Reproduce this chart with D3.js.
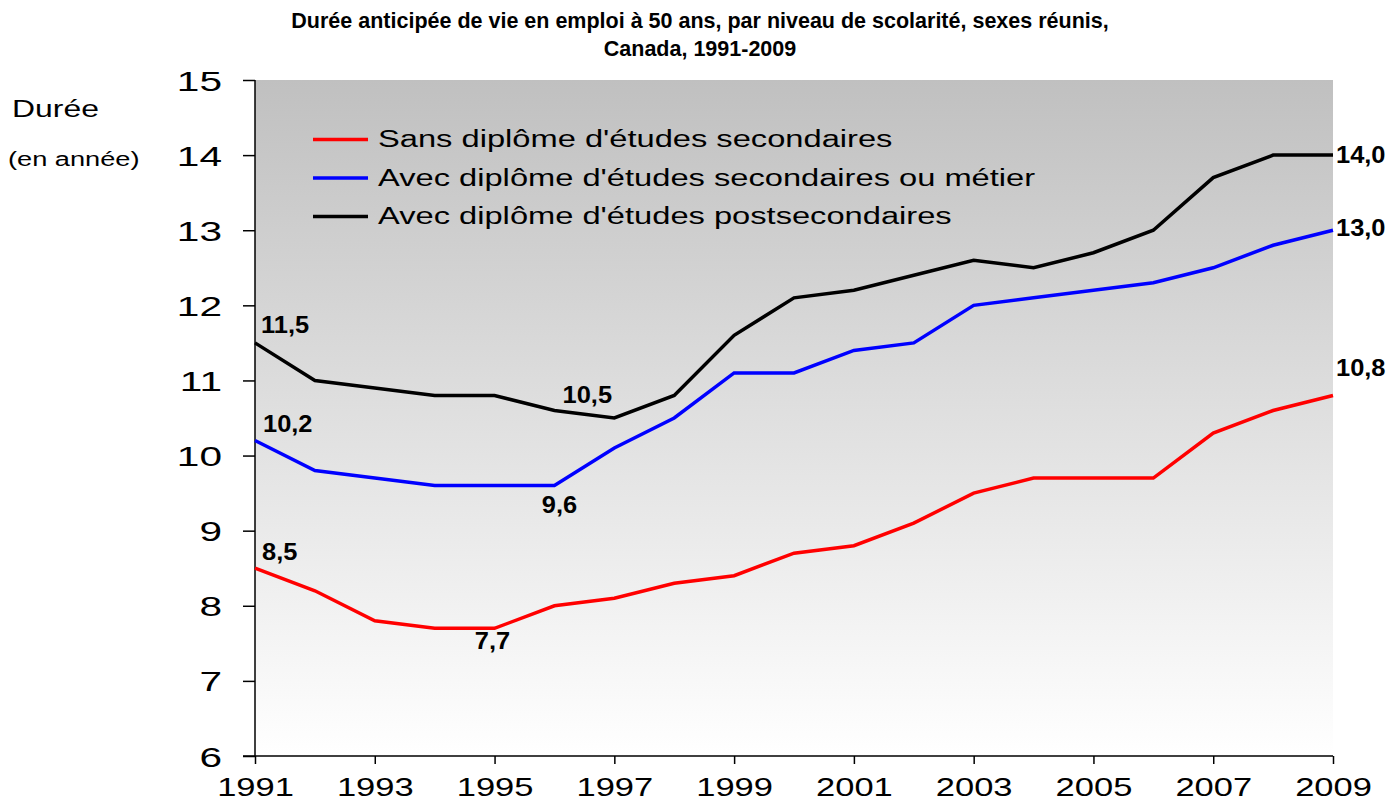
<!DOCTYPE html>
<html><head><meta charset="utf-8">
<script src="https://cdn.jsdelivr.net/npm/d3@7"></script>
<style>body{margin:0;background:#fff}svg{display:block;font-family:"Liberation Sans",Arial,sans-serif}</style>
</head><body>
<svg id="c" width="1388" height="802"></svg>
<script>
const years = d3.range(1991, 2010);
const tickYears = [1991,1993,1995,1997,1999,2001,2003,2005,2007,2009];
const yTicks = [6,7,8,9,10,11,12,13,14,15];
const seriesNames = ["Sans diplôme d'études secondaires","Avec diplôme d'études secondaires ou métier","Avec diplôme d'études postsecondaires"];
const sansDiplome = [8.5,8.2,7.8,7.7,7.7,8.0,8.1,8.3,8.4,8.7,8.8,9.1,9.5,9.7,9.7,9.7,10.3,10.6,10.8];
const secondaire = [10.2,9.8,9.7,9.6,9.6,9.6,10.1,10.5,11.1,11.1,11.4,11.5,12.0,12.1,12.2,12.3,12.5,12.8,13.0];
const postsecondaire = [11.5,11.0,10.9,10.8,10.8,10.6,10.5,10.8,11.6,12.1,12.2,12.4,12.6,12.5,12.7,13.0,13.7,14.0,14.0];
const colors = ["#ff0000","#0000ff","#000000"];

const svg = d3.select("#c");
const x = d3.scaleLinear().domain([1991,2009]).range([255,1333]);
const y = d3.scaleLinear().domain([6,15]).range([756,80]);

// helper: horizontally stretched text
function stext(parent, px, py, s, txt, size, opts={}) {
  return parent.append("text")
    .attr("transform", `translate(${px},${py}) scale(${s},1)`)
    .attr("x",0).attr("y",0)
    .attr("font-size", size)
    .attr("font-weight", opts.bold ? "bold" : null)
    .attr("text-anchor", opts.anchor || "start")
    .attr("fill","#000")
    .text(txt);
}

const defs = svg.append("defs");
const g = defs.append("linearGradient").attr("id","bg").attr("x1",0).attr("y1",0).attr("x2",0).attr("y2",1);
g.append("stop").attr("offset","0%").attr("stop-color","#c0c0c0");
g.append("stop").attr("offset","100%").attr("stop-color","#ffffff");
svg.append("rect").attr("x",x(1991)).attr("y",y(15)).attr("width",x(2009)-x(1991)).attr("height",y(6)-y(15)).attr("fill","url(#bg)");

// title
svg.append("text").attr("x",700).attr("y",28).attr("text-anchor","middle").attr("font-weight","bold").attr("font-size",21.5)
  .text("Durée anticipée de vie en emploi à 50 ans, par niveau de scolarité, sexes réunis,");
svg.append("text").attr("x",700).attr("y",56).attr("text-anchor","middle").attr("font-weight","bold").attr("font-size",21.5)
  .text("Canada, 1991-2009");

// axes
const ya = svg.append("g").attr("transform",`translate(${x(1991)},0)`)
  .call(d3.axisLeft(y).tickValues(yTicks).tickSize(12).tickFormat(d3.format("d")));
ya.selectAll("line,path").attr("stroke","#000").attr("stroke-width",1.5);
ya.select(".domain").attr("d",`M0,${y(15)}V${y(6)}`);
ya.selectAll(".tick text").attr("x",0).attr("dy","0.36em")
  .attr("transform","translate(-33,0) scale(1.45,1)")
  .attr("font-size",28).attr("fill","#000").attr("font-family","Liberation Sans, Arial, sans-serif");

const xa = svg.append("g").attr("transform",`translate(0,${y(6)})`)
  .call(d3.axisBottom(x).tickValues(tickYears).tickSize(8).tickFormat(d3.format("d")));
xa.selectAll("line,path").attr("stroke","#000").attr("stroke-width",1.5);
xa.select(".domain").attr("d",`M${x(1991)-12},0H${x(2009)}`);
xa.selectAll(".tick text").attr("y",0).attr("dy","0.71em")
  .attr("transform","translate(0,22) scale(1.38,1)")
  .attr("font-size",25).attr("fill","#000").attr("font-family","Liberation Sans, Arial, sans-serif");

// y label
stext(svg, 12, 117, 1.33, "Durée", 24);
stext(svg, 8, 166, 1.36, "(en année)", 20);

// lines
const line = d3.line().x((d,i)=>x(years[i])).y(d=>y(d));
[sansDiplome, secondaire, postsecondaire].forEach((s,i)=>{
  svg.append("path").datum(s).attr("d",line).attr("fill","none").attr("stroke",colors[i]).attr("stroke-width",3.5).attr("stroke-linejoin","miter");
});

// legend
seriesNames.forEach((n,i)=>{
  const ly = 139.5 + i*38.5;
  svg.append("line").attr("x1",313).attr("x2",368).attr("y1",ly).attr("y2",ly).attr("stroke",colors[i]).attr("stroke-width",3.5);
  stext(svg, 378, ly+7.5, 1.42, n, 23);
});

// data labels
const fmt = v => d3.format(".1f")(v).replace(".",",");
const labels = [
  {s:postsecondaire,i:0,dx:6,dy:-10,a:"start"},
  {s:secondaire,i:0,dx:8,dy:-9,a:"start"},
  {s:sansDiplome,i:0,dx:7,dy:-8,a:"start"},
  {s:postsecondaire,i:6,dx:-27,dy:-15,a:"middle"},
  {s:secondaire,i:5,dx:5,dy:27,a:"middle"},
  {s:sansDiplome,i:4,dx:-2,dy:21,a:"middle"},
  {s:postsecondaire,i:18,dx:3,dy:8,a:"start"},
  {s:secondaire,i:18,dx:3,dy:6,a:"start"},
  {s:sansDiplome,i:18,dx:3,dy:-19,a:"start"}
];
labels.forEach(l=>{
  stext(svg, x(years[l.i])+l.dx, y(l.s[l.i])+l.dy, 1.06, fmt(l.s[l.i]), 24, {bold:true, anchor:l.a});
});
</script>
</body></html>
